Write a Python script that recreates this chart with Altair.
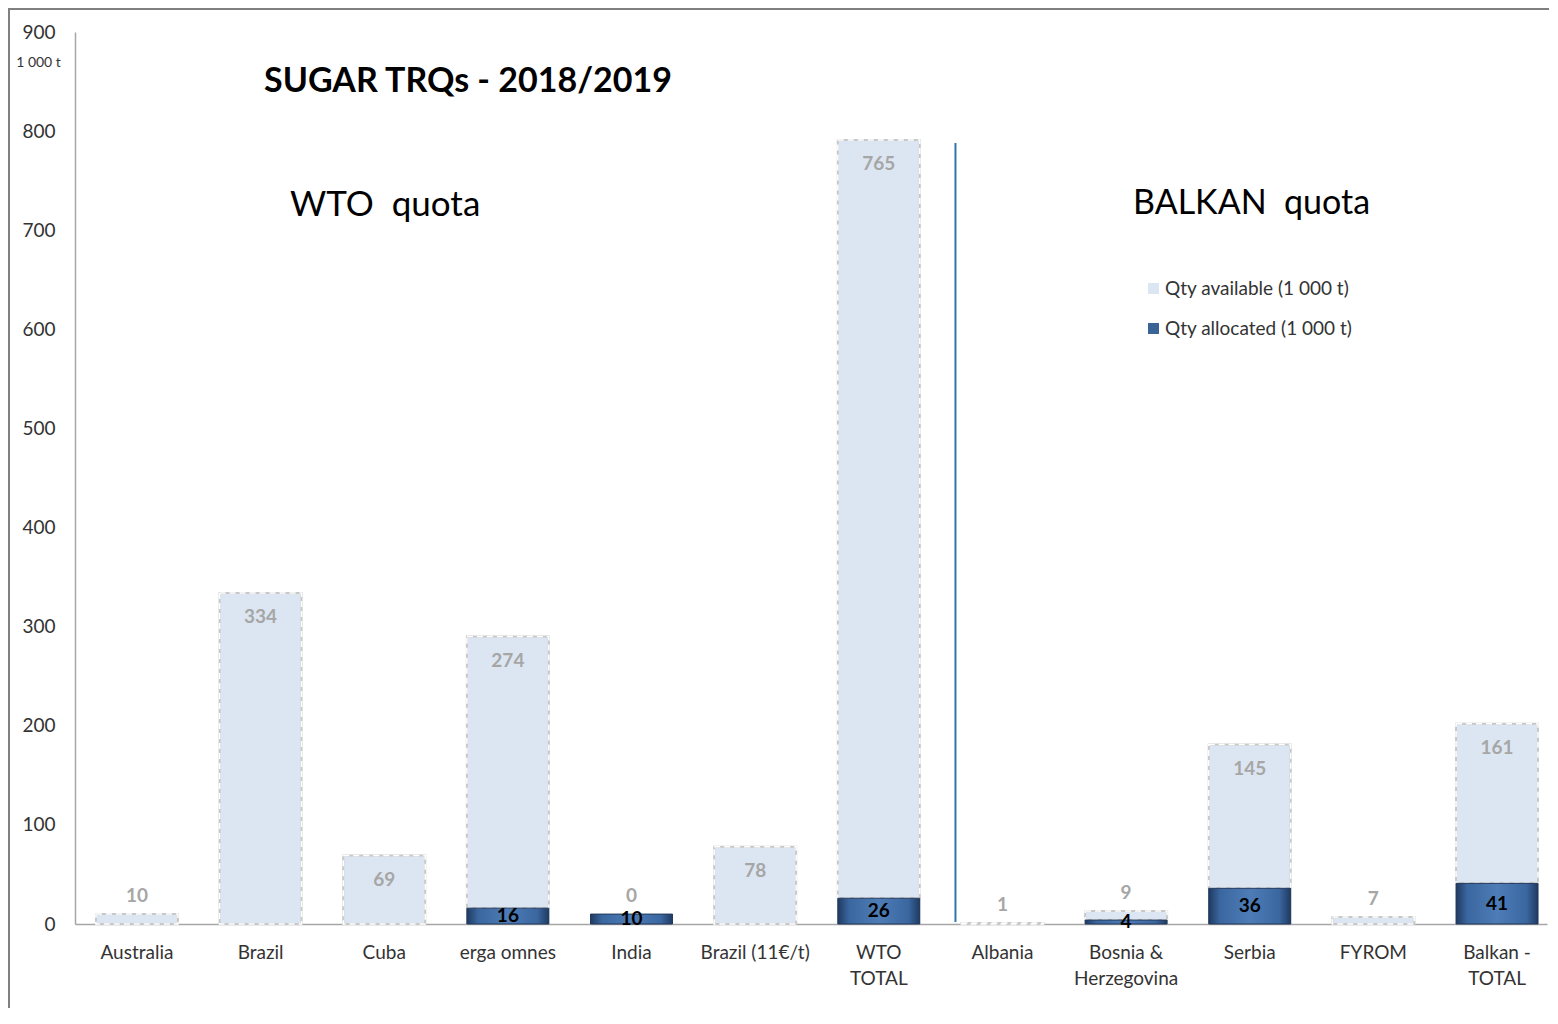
import altair as alt
import pandas as pd

categories = ["Australia", "Brazil", "Cuba", "erga omnes", "India", "Brazil (11€/t)",
              "WTO TOTAL", "Albania", "Bosnia & Herzegovina", "Serbia", "FYROM", "Balkan - TOTAL"]
allocated = [0, 0, 0, 16, 10, 0, 26, 0, 4, 36, 0, 41]
available = [10, 334, 69, 274, 0, 78, 765, 1, 9, 145, 7, 161]
series_names = ["Qty available (1 000 t)", "Qty allocated (1 000 t)"]
y_ticks = [0, 100, 200, 300, 400, 500, 600, 700, 800, 900]
label_lines = {"WTO TOTAL": ["WTO", "TOTAL"],
               "Bosnia & Herzegovina": ["Bosnia &", "Herzegovina"],
               "Balkan - TOTAL": ["Balkan -", "TOTAL"]}

W, H = 1472, 892
FONT = "Lato"
LIGHT = "#DCE6F2"
DARK = "#3A6496"
LBL = 19

rows = []
for c, a, v in zip(categories, allocated, available):
    rows.append({"cat": c, "series": series_names[1], "lo": 0, "hi": a, "val": a, "total": a + v})
    rows.append({"cat": c, "series": series_names[0], "lo": a, "hi": a + v, "val": v, "total": a + v})
df = pd.DataFrame(rows)

expr_parts = []
for k, parts in label_lines.items():
    arr = "[" + ", ".join("'" + p + "'" for p in parts) + "]"
    expr_parts.append(f"datum.label == '{k}' ? {arr} : ")
label_expr = "".join(expr_parts) + "datum.label"

x_scale = alt.Scale(domain=categories, paddingInner=0.337, paddingOuter=0.121, align=0.7)
x_axis = alt.Axis(title=None, labelAngle=0, ticks=False, labelFontSize=LBL,
                  labelFont=FONT, labelColor="#333333", labelPadding=19,
                  labelExpr=label_expr, labelLineHeight=26,
                  domainColor="#A6A6A6", domainWidth=1.5)
x_enc = alt.X("cat:N", scale=x_scale, axis=x_axis)
y_scale = alt.Scale(domain=[0, 900], nice=False, zero=True)
y_axis = alt.Axis(values=y_ticks, title="1 000 t", titleAngle=0, titleX=-37, titleY=30,
                  titleAlign="center", titleBaseline="middle", titleFontSize=14,
                  titleFontWeight="normal", titleFont=FONT, titleColor="#333333",
                  labelFontSize=LBL, labelFont=FONT, labelColor="#333333", labelPadding=20,
                  ticks=False, grid=False, domainColor="#A6A6A6", domainWidth=1.5)

base = alt.Chart(df)

bars = base.mark_bar().encode(
    x=x_enc,
    y=alt.Y("lo:Q", scale=y_scale, axis=y_axis),
    y2="hi:Q",
    color=alt.Color("series:N",
                    scale=alt.Scale(domain=series_names, range=[LIGHT, DARK]),
                    legend=alt.Legend(title=None, orient="none", legendX=1069, legendY=247,
                                      symbolType="square", symbolSize=120,
                                      labelFontSize=LBL, labelFont=FONT, labelColor="#333333",
                                      labelLimit=0, rowPadding=20, labelOffset=2,
                                      symbolStrokeWidth=0)),
)

avail_f = f"datum.series == '{series_names[0]}'"
alloc_f = f"datum.series == '{series_names[1]}'"

light_edge = base.transform_filter(avail_f + " && datum.val > 0").mark_bar(
    fillOpacity=0, stroke="#C8C8C8", strokeWidth=2
).encode(x=x_enc, y=alt.Y("lo:Q", scale=y_scale, axis=y_axis), y2="hi:Q")

light_dash = base.transform_filter(avail_f + " && datum.val > 0").mark_bar(
    fillOpacity=0, stroke="#FFFFFF", strokeWidth=1.5, strokeDash=[6, 4]
).encode(x=x_enc, y=alt.Y("lo:Q", scale=y_scale, axis=y_axis), y2="hi:Q")

grad = alt.Gradient(gradient="linear", x1=0, x2=1, y1=0, y2=0, stops=[
    alt.GradientStop(color="#1F3A61", offset=0),
    alt.GradientStop(color="#3B67A0", offset=0.14),
    alt.GradientStop(color="#4D7CB6", offset=0.5),
    alt.GradientStop(color="#3B67A0", offset=0.86),
    alt.GradientStop(color="#1F3A61", offset=1),
])
dark_bars = base.transform_filter(alloc_f + " && datum.val > 0").mark_bar(
    color=grad, stroke="#23395A", strokeWidth=1
).encode(x=x_enc, y=alt.Y("lo:Q", scale=y_scale, axis=y_axis), y2="hi:Q")

avail_in = base.transform_filter(avail_f + " && datum.val >= 30").mark_text(
    dy=24, fontSize=LBL, fontWeight="bold", font=FONT, color="#A6A6A6", baseline="middle"
).encode(x=x_enc, y=alt.Y("total:Q", scale=y_scale, axis=y_axis), text="val:Q")

avail_out = base.transform_filter(avail_f + " && datum.val < 30").mark_text(
    dy=-18, fontSize=LBL, fontWeight="bold", font=FONT, color="#A6A6A6", baseline="middle"
).encode(x=x_enc, y=alt.Y("total:Q", scale=y_scale, axis=y_axis), text="val:Q")

alloc_lbl = base.transform_filter(alloc_f + " && datum.val > 0").transform_calculate(
    mid="datum.val / 2"
).mark_text(
    fontSize=LBL, fontWeight="bold", font=FONT, color="#000000", baseline="middle"
).encode(x=x_enc, y=alt.Y("mid:Q", scale=y_scale, axis=y_axis), text="val:Q")

sep = alt.Chart(pd.DataFrame({"c": ["Albania"], "y": [2], "y2": [788]})).mark_rule(
    color="#2E75B6", strokeWidth=2, xOffset=-6
).encode(
    x=alt.X("c:N", bandPosition=0, scale=x_scale, axis=x_axis),
    y=alt.Y("y:Q", scale=y_scale, axis=y_axis), y2="y2:Q"
)

title = alt.Chart(pd.DataFrame({"t": ["SUGAR TRQs - 2018/2019"]})).mark_text(
    fontSize=34, fontWeight="bold", font=FONT, color="#000000", align="left", baseline="middle"
).encode(x=alt.value(189), y=alt.value(50), text="t:N")

wto = alt.Chart(pd.DataFrame({"t": ["WTO\u00a0 quota"]})).mark_text(
    fontSize=35, font=FONT, color="#000000", align="left", baseline="middle"
).encode(x=alt.value(215), y=alt.value(173), text="t:N")

balkan = alt.Chart(pd.DataFrame({"t": ["BALKAN\u00a0 quota"]})).mark_text(
    fontSize=34, font=FONT, color="#000000", align="left", baseline="middle"
).encode(x=alt.value(1058), y=alt.value(172), text="t:N")

frame_left = alt.Chart(pd.DataFrame({"k": [0]})).mark_rule(color="#808080", strokeWidth=2).encode(
    x=alt.value(-66), y=alt.value(-23), y2=alt.value(H + 84))
frame_top = alt.Chart(pd.DataFrame({"k": [0]})).mark_rule(color="#808080", strokeWidth=2).encode(
    x=alt.value(-67), x2=alt.value(W + 2), y=alt.value(-23))

chart = alt.layer(
    bars, light_edge, light_dash, dark_bars, avail_in, avail_out, alloc_lbl, sep,
    title, wto, balkan, frame_left, frame_top
).properties(
    width=W, height=H,
    background="white",
    autosize=alt.AutoSizeParams(type="none"),
    padding={"left": 67, "top": 24, "right": 2, "bottom": 84},
).configure_view(strokeWidth=0, stroke="transparent")

chart.save("out.html", embed_options={"renderer": "svg", "actions": False})
